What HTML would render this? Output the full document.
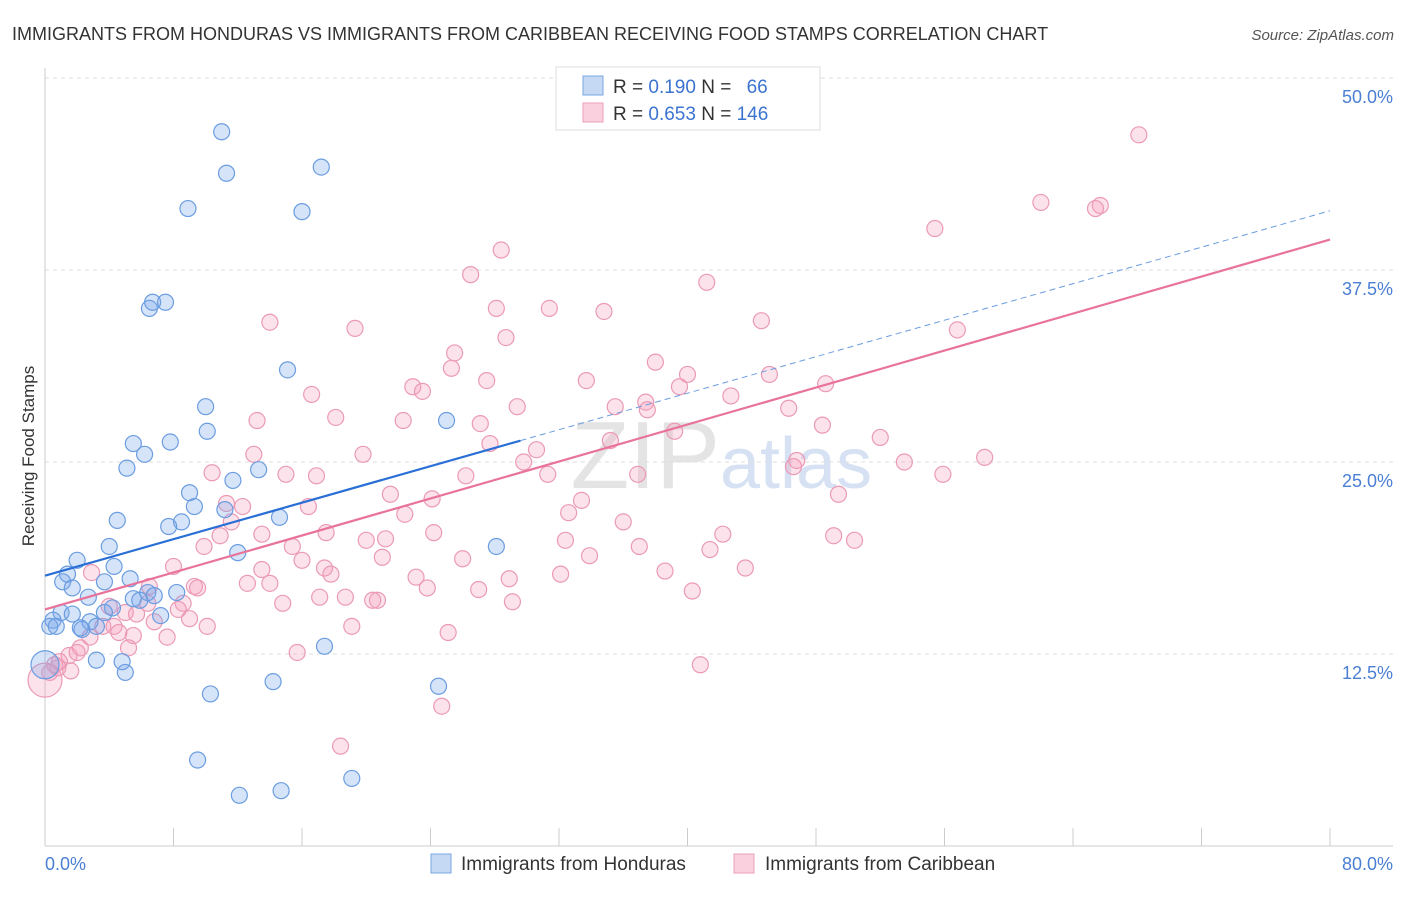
<!DOCTYPE html>
<html><head><meta charset="utf-8"><style>
body{margin:0;background:#fff;font-family:"Liberation Sans",sans-serif;}
svg text{font-family:"Liberation Sans",sans-serif;}
</style></head><body>
<svg id="chart" width="1406" height="892">
<text x="12" y="40" font-size="18" fill="#333">IMMIGRANTS FROM HONDURAS VS IMMIGRANTS FROM CARIBBEAN RECEIVING FOOD STAMPS CORRELATION CHART</text>
<text x="1394" y="40" font-size="15" fill="#555" font-style="italic" text-anchor="end">Source: ZipAtlas.com</text>
<text x="720" y="488" font-size="96" fill="#e4e4e4" text-anchor="end" font-family="Liberation Serif">ZIP</text>
<text x="720" y="488" font-size="72" fill="#d6e2f3">atlas</text>
<g id="grid"></g>
<g id="pts"></g>
<g id="lines"></g>
<text transform="translate(34,456) rotate(-90)" font-size="17" fill="#333" text-anchor="middle">Receiving Food Stamps</text>
<text x="45" y="870" font-size="18" fill="#4a7fd4">0.0%</text>
<text x="1393" y="870" font-size="18" fill="#4a7fd4" text-anchor="end">80.0%</text>
<g>
<rect x="556" y="67" width="264" height="63" fill="#fff" stroke="#ddd"/>
<rect x="583" y="76" width="20" height="19" fill="#c5d9f5" stroke="#7aa6e3"/>
<rect x="583" y="103" width="20" height="19" fill="#fbd0de" stroke="#ee9fba"/>
<text x="613" y="93" font-size="19" fill="#333">R = <tspan fill="#3b74d0">0.190</tspan>   N = <tspan fill="#3b74d0" dx="10">66</tspan></text>
<text x="613" y="120" font-size="19" fill="#333">R = <tspan fill="#3b74d0">0.653</tspan>   N = <tspan fill="#3b74d0">146</tspan></text>
</g>
<g>
<rect x="431" y="854" width="20" height="19" fill="#c5d9f5" stroke="#7aa6e3"/>
<text x="461" y="870" font-size="19" fill="#333">Immigrants from Honduras</text></g>
<g>
<rect x="734" y="854" width="20" height="19" fill="#fbd0de" stroke="#ee9fba"/>
<text x="765" y="870" font-size="19" fill="#333">Immigrants from Caribbean</text></g>
</svg>
<script>
const yTicks=[12.5,25,37.5,50];
const yTickLabels=["12.5%","25.0%","37.5%","50.0%"];
const xTicks=[0,8,16,24,32,40,48,56,64,72,80];
const hondX=[11.0,11.3,17.2,8.9,16.0,6.5,7.5,6.7,15.1,10.0,10.1,25.0,5.5,7.8,6.2,5.1,11.7,13.3,9.0,9.3,8.5,7.7,4.5,11.2,14.6,4.0,12.0,28.1,2.0,1.4,1.1,4.3,5.3,3.7,1.7,6.4,6.8,8.2,5.9,2.7,1.0,1.7,4.2,3.7,0.5,0.3,0.7,2.8,3.2,2.3,7.2,17.4,3.2,4.8,5.0,14.2,10.3,24.5,9.5,19.1,12.1,14.7,0,2.2,5.5];
const hondY=[46.5,43.8,44.2,41.5,41.3,35.0,35.4,35.4,31.0,28.6,27.0,27.7,26.2,26.3,25.5,24.6,23.8,24.5,23.0,22.1,21.1,20.8,21.2,21.9,21.4,19.5,19.1,19.5,18.6,17.7,17.2,18.2,17.4,17.2,16.8,16.5,16.3,16.5,16.0,16.2,15.2,15.1,15.5,15.2,14.7,14.3,14.3,14.6,14.3,14.1,15.0,13.0,12.1,12.0,11.3,10.7,9.9,10.4,5.6,4.4,3.3,3.6,11.8,14.2,16.1];
const caribX=[68.1,62.0,65.7,65.4,55.4,28.4,26.5,41.2,28.1,31.4,34.8,44.6,14.0,19.3,56.8,28.7,25.5,38.0,25.3,45.1,40.0,33.7,27.5,39.5,48.6,22.9,23.5,16.6,42.7,35.5,29.4,37.4,46.3,37.5,18.1,13.2,22.3,27.1,48.4,39.2,52.0,35.2,27.7,30.6,19.8,13.0,29.8,46.6,53.5,58.5,46.8,10.4,15.0,16.9,26.2,36.9,31.3,55.9,21.5,24.1,49.4,11.3,12.3,16.4,33.4,22.4,32.6,11.6,36.0,13.5,10.9,24.2,17.5,42.2,20.0,21.2,32.4,49.1,50.4,9.9,15.4,37.0,41.4,21.0,16.0,26.0,33.9,2.9,17.4,8.0,13.5,17.8,43.6,23.1,38.6,28.9,32.1,6.5,12.6,9.3,14.0,9.5,23.8,27.0,40.3,17.1,18.7,20.7,20.4,6.4,8.6,4.0,14.8,29.1,5.0,8.3,5.7,9.0,6.8,3.6,4.3,10.1,4.6,7.6,5.5,2.8,25.1,19.1,5.2,2.2,1.5,15.7,2.0,0.9,1.6,0.3,0.8,0.6,40.8,24.7,18.4,0];
const caribY=[46.3,41.9,41.7,41.5,40.2,38.8,37.2,36.7,35.0,35.0,34.8,34.2,34.1,33.7,33.6,33.1,32.1,31.5,31.1,30.7,30.7,30.3,30.3,29.9,30.1,29.9,29.6,29.4,29.3,28.6,28.6,28.9,28.5,28.4,27.9,27.7,27.7,27.5,27.4,27.0,26.6,26.4,26.2,25.8,25.5,25.5,25.0,24.7,25.0,25.3,25.1,24.3,24.2,24.1,24.1,24.2,24.2,24.2,22.9,22.6,22.9,22.3,22.1,22.1,22.5,21.6,21.7,21.1,21.1,20.3,20.2,20.4,20.4,20.3,19.9,20.0,19.9,20.2,19.9,19.5,19.5,19.5,19.3,18.8,18.6,18.7,18.9,17.8,18.1,18.2,18.0,17.7,18.1,17.5,17.9,17.4,17.7,16.9,17.1,16.9,17.1,16.8,16.8,16.7,16.6,16.2,16.2,16.0,16.0,15.8,15.8,15.6,15.8,15.9,15.2,15.4,15.1,14.8,14.6,14.3,14.3,14.3,13.9,13.6,13.7,13.6,13.9,14.3,12.9,12.9,12.4,12.6,12.6,12.0,11.4,11.3,11.6,11.8,11.8,9.1,6.5,10.8];
const hondTrend=[17.6,0.297];
const caribTrend=[15.4,0.301];
const X=v=>45+v*(1285/80);
const Y=v=>846-v*(768/50);
const NS="http://www.w3.org/2000/svg";
function mk(tag,parent,attrs){const e=document.createElementNS(NS,tag);for(const k in attrs)e.setAttribute(k,attrs[k]);parent.appendChild(e);return e;}
const grid=document.getElementById('grid');
yTicks.forEach((t,i)=>{
 const l=mk('line',grid,{x1:45,x2:1393,y1:Y(t),y2:Y(t),stroke:'#ddd','stroke-dasharray':'4,4'});
 
 
 const tx=mk('text',grid,{x:1393,y:Y(t)+25,'font-size':18,fill:'#4a7fd4','text-anchor':'end'});
 tx.textContent=yTickLabels[i];
 
 
});
const ax=mk('line',grid,{x1:45,x2:1393,y1:846,y2:846,stroke:'#ccc'});


const ay=mk('line',grid,{x1:45,x2:45,y1:68,y2:846,stroke:'#ccc'});


xTicks.forEach(t=>{
 const l=mk('line',grid,{x1:X(t),x2:X(t),y1:828,y2:846,stroke:'#ccc'});
 
 
});
const pts=document.getElementById('pts');
caribX.forEach((x,i)=>{
 const big=(x===0);
 const c=mk('circle',pts,{cx:X(x),cy:Y(caribY[i]),r:big?17:8,fill:'rgba(244,160,190,0.3)',stroke:'#eb9ab5','stroke-width':1.2});
 
 
});
hondX.forEach((x,i)=>{
 const big=(x===0);
 const c=mk('circle',pts,{cx:X(x),cy:Y(hondY[i]),r:big?14:8,fill:'rgba(120,165,235,0.3)',stroke:'#6b9de0','stroke-width':1.2});
 
 
});
const lines=document.getElementById('lines');
const hx=29.6;
const b1=mk('line',lines,{x1:X(0),y1:Y(hondTrend[0]),x2:X(hx),y2:Y(hondTrend[0]+hondTrend[1]*hx),stroke:'#2a6fd6','stroke-width':2.2});


const b2=mk('line',lines,{x1:X(hx),y1:Y(hondTrend[0]+hondTrend[1]*hx),x2:X(80),y2:Y(hondTrend[0]+hondTrend[1]*80),stroke:'#6b9de0','stroke-width':1,'stroke-dasharray':'6,4'});


const p1=mk('line',lines,{x1:X(0),y1:Y(caribTrend[0]),x2:X(80),y2:Y(caribTrend[0]+caribTrend[1]*80),stroke:'#e8739b','stroke-width':2.2});


</script>
</body></html>
